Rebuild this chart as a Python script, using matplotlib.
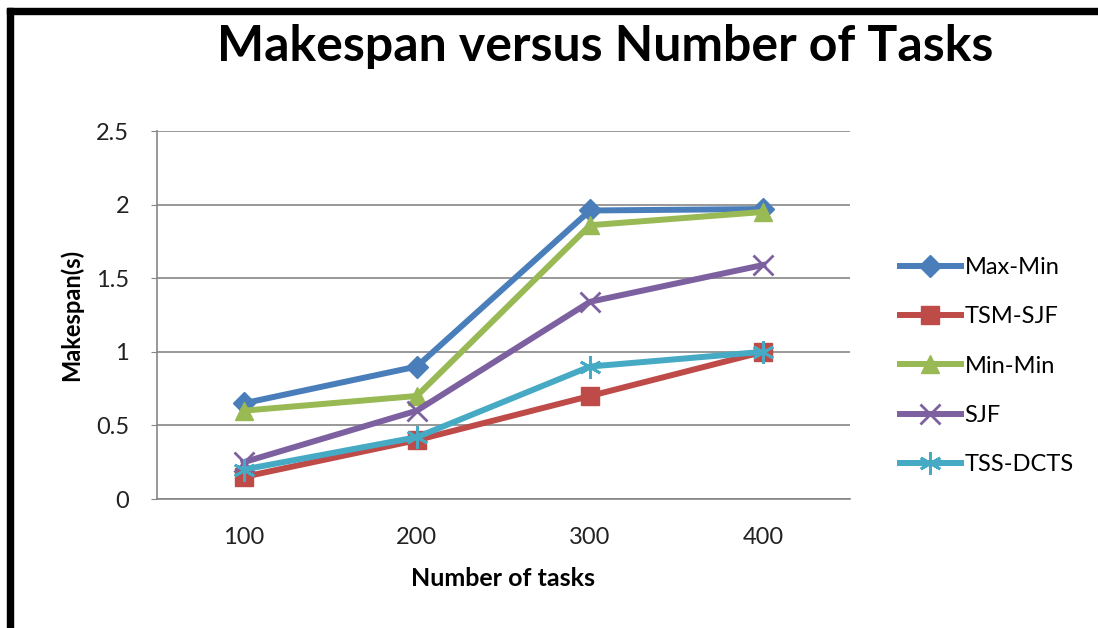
import matplotlib.pyplot as plt
from matplotlib.patches import Rectangle

tasks = ["100", "200", "300", "400"]
max_min = [0.65, 0.9, 1.96, 1.97]
tsm_sjf = [0.15, 0.4, 0.7, 1.0]
min_min = [0.6, 0.7, 1.86, 1.95]
sjf = [0.25, 0.6, 1.34, 1.59]
tss_dcts = [0.2, 0.42, 0.9, 1.0]

series = [
    ("Max-Min", max_min, "#4A7EBB", "D", 11),
    ("TSM-SJF", tsm_sjf, "#BE4B48", "s", 13),
    ("Min-Min", min_min, "#98B954", "^", 13),
    ("SJF", sjf, "#7D60A0", "x", 14),
    ("TSS-DCTS", tss_dcts, "#46AAC5", (6, 2, 0), 16),
]

plt.rcParams['font.family'] = ['Lato', 'DejaVu Sans']

fig = plt.figure(figsize=(10.98, 6.28), dpi=100)
ax = fig.add_axes([0.143, 0.2054, 0.631, 0.586])

x = list(range(1, len(tasks) + 1))
for name, vals, col, mk, ms in series:
    ax.plot(x, vals, color=col, lw=4.3, marker=mk, markersize=ms,
            markeredgecolor=col, markeredgewidth=2 if mk in ("x",) or isinstance(mk, tuple) else 1,
            label=name, solid_joinstyle='round')

ax.set_xlim(0.5, 4.5)
ax.set_ylim(0, 2.5)
ax.set_yticks([0, 0.5, 1, 1.5, 2, 2.5])
ax.set_yticklabels(["0", "0.5", "1", "1.5", "2", "2.5"])
ax.set_xticks(x)
ax.set_xticklabels(tasks)
ax.yaxis.grid(True, color="#868686", lw=1.2)
ax.set_axisbelow(True)
for s in ("top", "right"):
    ax.spines[s].set_visible(False)
for s in ("left", "bottom"):
    ax.spines[s].set_color("#868686")
    ax.spines[s].set_linewidth(1.2)
ax.tick_params(axis="y", length=4, color="#868686", labelsize=17, pad=16, labelcolor="#222222")
ax.tick_params(axis="x", length=0, labelsize=17, pad=20, labelcolor="#222222")

ax.set_xlabel("Number of tasks", fontsize=18, fontweight="bold", labelpad=14)
ax.set_ylabel("Makespan(s)", fontsize=17, fontweight="bold", labelpad=9)

fig.text(0.551, 0.926, "Makespan versus Number of Tasks", fontsize=36,
         fontweight="bold", ha="center", va="center")

leg = fig.legend(loc="center left", bbox_to_anchor=(0.8, 0.417), frameon=False,
                 fontsize=17, handlelength=2.6, handletextpad=0.15, labelspacing=1.2)

# black frame on top and left edges
fig.patches.append(Rectangle((7 / 1098, 0), 6 / 1098, 1 - 8 / 628, transform=fig.transFigure,
                             color="black", zorder=10))
fig.patches.append(Rectangle((7 / 1098, 1 - 14 / 628), 1, 6 / 628, transform=fig.transFigure,
                             color="black", zorder=10))

fig.savefig("out.png", dpi=100)
